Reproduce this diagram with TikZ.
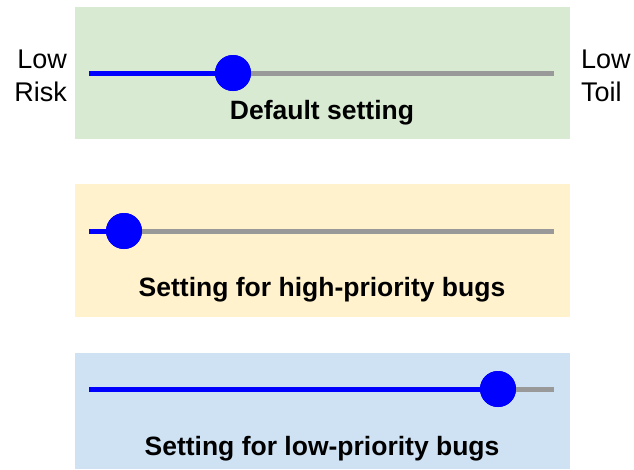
\documentclass[tikz,border=0pt]{standalone}
\usepackage{fontspec}
\setmainfont{Liberation Sans}
\definecolor{panelgreen}{HTML}{D9EAD3}
\definecolor{panelyellow}{HTML}{FFF2CC}
\definecolor{panelblue}{HTML}{CFE2F3}
\definecolor{trackgray}{HTML}{999999}
\definecolor{knobblue}{HTML}{0000FF}
\begin{document}
\begin{tikzpicture}[x=1pt,y=-1pt,
  track/.style={draw=trackgray,line width=5pt},
  fill track/.style={draw=knobblue,line width=5pt},
  knob/.style={circle,fill=knobblue,minimum size=36pt,inner sep=0pt},
  caption/.style={font=\fontsize{26.5}{30}\selectfont\bfseries,anchor=base,inner sep=0pt},
  side/.style={font=\fontsize{27}{33}\selectfont,align=#1,inner sep=0pt}]
\useasboundingbox (0,0) rectangle (634,469);
% panel backgrounds
\fill[panelgreen]  (75,7)   rectangle (570,139);
\fill[panelyellow] (75,184) rectangle (570,317);
\fill[panelblue]   (75,353) rectangle (570,469);
% default setting slider
\coordinate (s1) at (89,73);
\coordinate (e1) at (554,73);
\node[knob] (k1) at (233,73) {};
\draw[track] (k1.center) -- (e1);
\draw[fill track] (s1) -- (k1.center);
\node[knob] at (k1.center) {};
\node[caption] (c1) at (322,119) {Default setting};
% high-priority slider
\coordinate (s2) at (89,231);
\coordinate (e2) at (554,231);
\node[knob] (k2) at (124,231) {};
\draw[track] (k2.center) -- (e2);
\draw[fill track] (s2) -- (k2.center);
\node[knob] at (k2.center) {};
\node[caption] (c2) at (322,296) {Setting for high-priority bugs};
% low-priority slider
\coordinate (s3) at (89,389);
\coordinate (e3) at (554,389);
\node[knob] (k3) at (498,389) {};
\draw[track] (k3.center) -- (e3);
\draw[fill track] (s3) -- (k3.center);
\node[knob] at (k3.center) {};
\node[caption] (c3) at (322,455) {Setting for low-priority bugs};
% end labels
\node[side=right,anchor=east] (risk) at (67,76) {Low\\Risk};
\node[side=left,anchor=west] (toil) at (581,76) {Low\\Toil};
\end{tikzpicture}
\end{document}
